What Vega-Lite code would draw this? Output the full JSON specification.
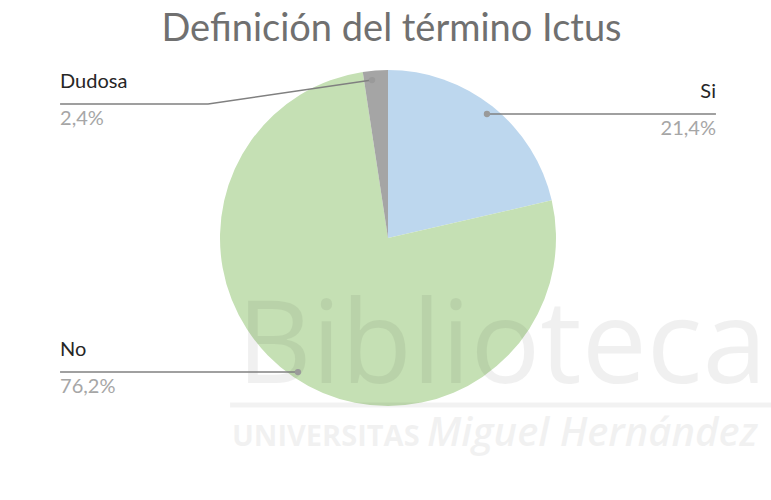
{
  "$schema": "https://vega.github.io/schema/vega-lite/v6.json",
  "width": 771,
  "height": 440,
  "autosize": "none",
  "padding": {"top": 60, "left": 0, "right": 0, "bottom": 0},
  "background": "white",
  "title": {"text": "Definición del término Ictus", "font": "Lato", "fontSize": 38, "fontWeight": "normal", "color": "#707070", "anchor": "middle", "offset": -19, "baseline": "alphabetic", "dx": 6},
  "config": {"view": {"stroke": null}},
  "datasets": {
    "slices": [
      {"cat": "Si", "pct": 21.4, "idx": 1},
      {"cat": "No", "pct": 76.2, "idx": 2},
      {"cat": "Dudosa", "pct": 2.4, "idx": 3}
    ],
    "leaders": [
      {"cat": "Si", "seq": 0, "lx": 0.589, "ly": 0.738},
      {"cat": "Si", "seq": 1, "lx": 1.952, "ly": 0.738},
      {"cat": "Dudosa", "seq": 0, "lx": -0.095, "ly": 0.94},
      {"cat": "Dudosa", "seq": 1, "lx": -1.071, "ly": 0.798},
      {"cat": "Dudosa", "seq": 2, "lx": -1.952, "ly": 0.798},
      {"cat": "No", "seq": 0, "lx": -0.536, "ly": -0.798},
      {"cat": "No", "seq": 1, "lx": -1.952, "ly": -0.798}
    ],
    "labels": [
      {"cat": "Si", "pctText": "21,4%", "side": "right", "lx": 1.952, "ly": 0.738},
      {"cat": "Dudosa", "pctText": "2,4%", "side": "left", "lx": -1.952, "ly": 0.798},
      {"cat": "No", "pctText": "76,2%", "side": "left", "lx": -1.952, "ly": -0.798}
    ],
    "watermark": [
      {"text": "Biblioteca", "part": "big", "wx": -0.9, "wy": -0.863},
      {"text": "UNIVERSITAS", "part": "sans", "wx": -0.929, "wy": -1.24},
      {"text": "Miguel Hernández", "part": "italic", "wx": 0.232, "wy": -1.24}
    ],
    "wmline": [
      {"x1": -0.94, "x2": 2.3, "wy": -0.994}
    ]
  },
  "layer": [
    {
      "data": {"name": "slices"},
      "mark": {"type": "arc", "outerRadius": 168},
      "encoding": {
        "x": {"datum": 0, "type": "quantitative", "scale": {"domain": [-2.3095, 2.2798], "nice": false, "zero": false}, "axis": null},
        "y": {"datum": 0, "type": "quantitative", "scale": {"domain": [-1.5595, 1.0595], "nice": false, "zero": false}, "axis": null},
        "theta": {"field": "pct", "type": "quantitative", "stack": true},
        "order": {"field": "idx", "type": "quantitative"},
        "color": {"field": "cat", "type": "nominal", "scale": {"domain": ["Si", "No", "Dudosa"], "range": ["#BDD7EE", "#C5E0B4", "#A5A5A5"]}, "legend": null}
      }
    },
    {
      "data": {"name": "watermark"},
      "transform": [{"filter": "datum.part === 'big'"}],
      "mark": {"type": "text", "font": "Open Sans", "fontSize": 116, "fontWeight": "normal", "align": "left", "baseline": "alphabetic", "color": "#000000", "opacity": 0.055},
      "encoding": {
        "x": {"field": "wx", "type": "quantitative"},
        "y": {"field": "wy", "type": "quantitative"},
        "text": {"field": "text"}
      }
    },
    {
      "data": {"name": "watermark"},
      "transform": [{"filter": "datum.part === 'sans'"}],
      "mark": {"type": "text", "font": "Open Sans", "fontSize": 29, "fontWeight": "bold", "align": "left", "baseline": "alphabetic", "color": "#000000", "opacity": 0.05},
      "encoding": {
        "x": {"field": "wx", "type": "quantitative"},
        "y": {"field": "wy", "type": "quantitative"},
        "text": {"field": "text"}
      }
    },
    {
      "data": {"name": "watermark"},
      "transform": [{"filter": "datum.part === 'italic'"}],
      "mark": {"type": "text", "font": "Open Sans", "fontSize": 40, "fontStyle": "italic", "fontWeight": 600, "align": "left", "baseline": "alphabetic", "color": "#000000", "opacity": 0.05},
      "encoding": {
        "x": {"field": "wx", "type": "quantitative"},
        "y": {"field": "wy", "type": "quantitative"},
        "text": {"field": "text"}
      }
    },
    {
      "data": {"name": "wmline"},
      "mark": {"type": "rule", "color": "#000000", "opacity": 0.05, "strokeWidth": 5},
      "encoding": {
        "x": {"field": "x1", "type": "quantitative"},
        "x2": {"field": "x2"},
        "y": {"field": "wy", "type": "quantitative"}
      }
    },
    {
      "data": {"name": "leaders"},
      "mark": {"type": "line", "color": "#808080", "strokeWidth": 1.5},
      "encoding": {
        "x": {"field": "lx", "type": "quantitative"},
        "y": {"field": "ly", "type": "quantitative"},
        "detail": {"field": "cat"},
        "order": {"field": "seq", "type": "quantitative"}
      }
    },
    {
      "data": {"name": "leaders"},
      "transform": [{"filter": "datum.seq === 0"}],
      "mark": {"type": "circle", "size": 40, "color": "#9a9a9a", "opacity": 1},
      "encoding": {
        "x": {"field": "lx", "type": "quantitative"},
        "y": {"field": "ly", "type": "quantitative"}
      }
    },
    {
      "data": {"name": "labels"},
      "transform": [{"filter": "datum.side === 'left'"}],
      "layer": [
        {
          "mark": {"type": "text", "font": "Lato", "fontSize": 20, "align": "left", "baseline": "alphabetic", "dy": -16, "color": "#262626"},
          "encoding": {
            "x": {"field": "lx", "type": "quantitative"},
            "y": {"field": "ly", "type": "quantitative"},
            "text": {"field": "cat"}
          }
        },
        {
          "mark": {"type": "text", "font": "Lato", "fontSize": 20, "align": "left", "baseline": "alphabetic", "dy": 21, "color": "#A6A6A6"},
          "encoding": {
            "x": {"field": "lx", "type": "quantitative"},
            "y": {"field": "ly", "type": "quantitative"},
            "text": {"field": "pctText"}
          }
        }
      ]
    },
    {
      "data": {"name": "labels"},
      "transform": [{"filter": "datum.side === 'right'"}],
      "layer": [
        {
          "mark": {"type": "text", "font": "Lato", "fontSize": 20, "align": "right", "baseline": "alphabetic", "dy": -16, "color": "#262626"},
          "encoding": {
            "x": {"field": "lx", "type": "quantitative"},
            "y": {"field": "ly", "type": "quantitative"},
            "text": {"field": "cat"}
          }
        },
        {
          "mark": {"type": "text", "font": "Lato", "fontSize": 20, "align": "right", "baseline": "alphabetic", "dy": 21, "color": "#A6A6A6"},
          "encoding": {
            "x": {"field": "lx", "type": "quantitative"},
            "y": {"field": "ly", "type": "quantitative"},
            "text": {"field": "pctText"}
          }
        }
      ]
    }
  ]
}
